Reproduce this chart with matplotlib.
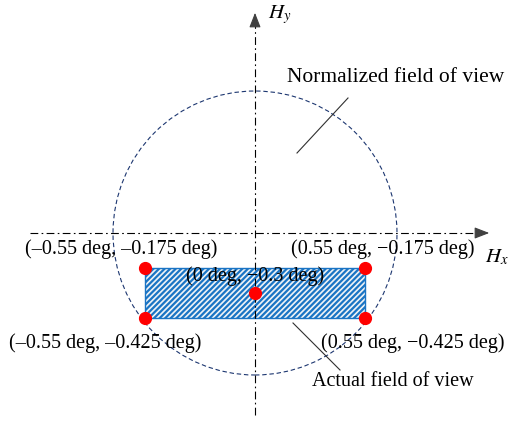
import matplotlib.pyplot as plt
import matplotlib.patches as patches
import numpy as np

plt.rcParams['font.family'] = ['Liberation Serif', 'DejaVu Serif']
plt.rcParams['mathtext.fontset'] = 'stix'
plt.rcParams['hatch.linewidth'] = 1.6
plt.rcParams['hatch.color'] = '#1a74c4'

# field of view corners and centre (deg)
fov_x = [-0.55, 0.55, -0.55, 0.55]
fov_y = [-0.175, -0.175, -0.425, -0.425]
centre_x = [0.0]
centre_y = [-0.3]
corner_labels = ['(\u20130.55 deg, \u20130.175 deg)', '(0.55 deg, \u22120.175 deg)',
                 '(\u20130.55 deg, \u20130.425 deg)', '(0.55 deg, \u22120.425 deg)']
centre_label = '(0 deg, \u22120.3 deg)'
norm_radius = 0.71

fig = plt.figure(figsize=(5.09, 4.24), dpi=100)
ax = fig.add_axes([0, 0, 1, 1])
ax.set_xlim(-1.275, 1.27)
ax.set_ylim(-0.955, 1.165)
ax.set_aspect('equal')
ax.axis('off')

# axes with dash-dot lines
dd = (7, 3, 1.5, 3)
ax.plot([-1.125, 1.15], [0, 0], color='black', lw=0.8, dashes=dd)
ax.plot([0, 0], [-0.91, 1.08], color='black', lw=0.8, dashes=dd)
ax.annotate('', xy=(1.185, 0), xytext=(1.12, 0),
            arrowprops=dict(arrowstyle='-|>,head_length=0.9,head_width=0.35',
                            color='#404040', lw=0.8))
ax.annotate('', xy=(0, 1.115), xytext=(0, 1.05),
            arrowprops=dict(arrowstyle='-|>,head_length=0.9,head_width=0.35',
                            color='#404040', lw=0.8))
ax.text(0.065, 1.09, '$H_y$', fontsize=15, ha='left', va='center')
ax.text(1.15, -0.12, '$H_x$', fontsize=15, ha='left', va='center')

# normalized field of view
circ = patches.Circle((0, 0), norm_radius, fill=False, edgecolor='#1c3670',
                      lw=0.8, linestyle=(0, (4, 2.5)))
ax.add_patch(circ)

# actual field of view
x0, x1 = min(fov_x), max(fov_x)
y0, y1 = min(fov_y), max(fov_y)
rect = patches.Rectangle((x0, y0), x1 - x0, y1 - y0, facecolor='#eef2f6',
                         edgecolor='#1a74c4', lw=1.0, hatch='//////')
ax.add_patch(rect)

ax.plot(fov_x, fov_y, 'o', color='#ff0000', ms=8.5, zorder=5)
ax.plot(centre_x, centre_y, 'o', color='#ff0000', ms=8.5, zorder=5)

fs = 14.5
ax.text(-0.6675, -0.08, corner_labels[0], fontsize=fs, ha='center', va='center')
ax.text(0.64, -0.08, corner_labels[1], fontsize=fs, ha='center', va='center')
ax.text(-0.75, -0.55, corner_labels[2], fontsize=fs, ha='center', va='center')
ax.text(0.79, -0.55, corner_labels[3], fontsize=fs, ha='center', va='center')
ax.text(0.0, -0.215, centre_label, fontsize=fs, ha='center', va='center', zorder=6)

ax.plot([0.21, 0.465], [0.4, 0.675], color='#303030', lw=0.8)
ax.text(0.16, 0.78, 'Normalized field of view', fontsize=15.5, ha='left', va='center')
ax.plot([0.19, 0.425], [-0.45, -0.685], color='#303030', lw=0.8)
ax.text(0.69, -0.745, 'Actual field of view', fontsize=fs, ha='center', va='center')

fig.savefig('out.png', dpi=100)
